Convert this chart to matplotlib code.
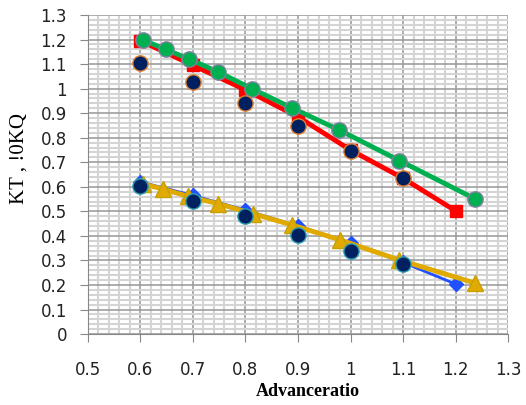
import matplotlib.pyplot as plt
from matplotlib.ticker import MultipleLocator
import numpy as np

# ---------- dados ----------
j_red = [0.6, 0.7, 0.8, 0.9, 1.0, 1.1, 1.2]
kt_red = [1.195, 1.095, 0.995, 0.885, 0.75, 0.635, 0.502]

j_green = [0.605, 0.648, 0.693, 0.748, 0.812, 0.888, 0.978, 1.093, 1.237]
kq_green = [1.198, 1.16, 1.12, 1.068, 1.0, 0.922, 0.832, 0.707, 0.551]

j_navy = [0.6, 0.7, 0.8, 0.9, 1.0, 1.1]
kt_navy = [1.105, 1.025, 0.942, 0.846, 0.744, 0.638]
kq_navy = [0.604, 0.544, 0.482, 0.404, 0.34, 0.284]

j_blue = [0.6, 0.7, 0.8, 0.9, 1.0, 1.1, 1.2]
kq_blue = [0.62, 0.565, 0.505, 0.44, 0.372, 0.292, 0.204]

j_yellow = [0.605, 0.643, 0.691, 0.748, 0.815, 0.888, 0.98, 1.093, 1.237]
kq_yellow = [0.612, 0.591, 0.561, 0.531, 0.49, 0.445, 0.384, 0.302, 0.208]

x_ticks = np.round(np.arange(0.5, 1.31, 0.1), 1)
y_ticks = np.round(np.arange(0.0, 1.31, 0.1), 1)

fig = plt.figure(figsize=(5.26, 4.05), dpi=100)
ax = fig.add_axes([0.167, 0.175, 0.799, 0.788])

# grelha
ax.xaxis.set_minor_locator(MultipleLocator(0.02))
ax.yaxis.set_minor_locator(MultipleLocator(0.02))
ax.grid(which="minor", color="#d4d4d4", linewidth=1.5)
ax.grid(which="major", color="#9e9e9e", linewidth=1.2)
ax.set_axisbelow(True)

# curvas
ax.plot(j_red, kt_red, color="#ff0000", lw=3.5, marker="s", ms=9,
        mec="#ff0000", zorder=3)
ax.plot(j_green, kq_green, color="#00b050", lw=3.5, marker="o", ms=11,
        mec="#8080a0", mew=1, zorder=4)
ax.plot(j_blue, kq_blue, color="#2050ff", lw=2, marker="D", ms=7,
        mec="#2050ff", zorder=3)
ax.plot(j_yellow, kq_yellow, color="#e0aa00", lw=3.5, marker="^", ms=11,
        mec="#c8a000", zorder=4)
ax.plot(j_navy, kt_navy, linestyle="none", marker="o", ms=11,
        mfc="#002060", mec="#e08030", mew=1, zorder=5)
ax.plot(j_navy, kq_navy, linestyle="none", marker="o", ms=11,
        mfc="#002060", mec="#30a0b0", mew=1, zorder=5)

ax.set_xlim(0.5, 1.3)
ax.set_ylim(0, 1.3)
ax.set_xticks(x_ticks)
ax.set_yticks(y_ticks)
ax.set_xticklabels([f"{v:g}" for v in x_ticks], fontsize=12, color="#222222")
ax.set_yticklabels([f"{v:g}" for v in y_ticks], fontsize=12, color="#222222")
ax.tick_params(which="major", direction="out", length=6, color="#888888")
ax.tick_params(axis="y", pad=9)
ax.tick_params(axis="x", pad=13)
ax.tick_params(which="minor", length=0)

for s in ["top", "right"]:
    ax.spines[s].set_visible(False)
for s in ["left", "bottom"]:
    ax.spines[s].set_color("#888888")

ax.set_xlabel("Advanceratio", fontsize=13, family="Liberation Serif",
              fontweight="bold", va="center")
ax.xaxis.set_label_coords(0.524, -0.18)
ax.set_ylabel("KT , !0KQ", fontsize=15, family="Liberation Serif",
              va="center")
ax.yaxis.set_label_coords(-0.163, 0.55)

fig.savefig("out.png", dpi=100)
